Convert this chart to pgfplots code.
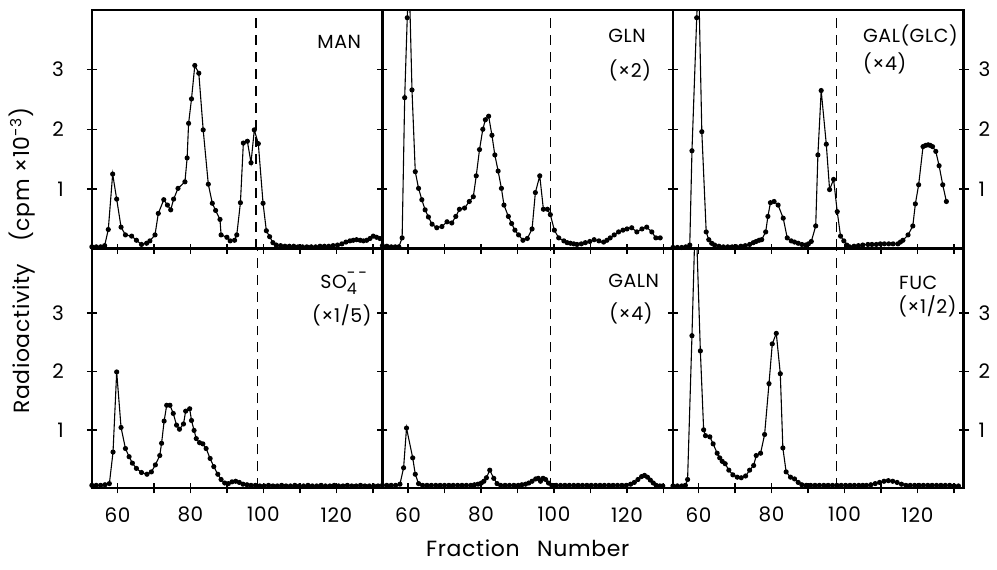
\documentclass[border=0pt]{standalone}
\usepackage{fontspec}
\setmainfont{Poppins}[LetterSpace=3]
\usepackage{pgfplots}
\pgfplotsset{compat=1.18}
\usepgfplotslibrary{groupplots}
\usetikzlibrary{calc}

\pgfplotsset{
  panel/.style={
    scale only axis, width=145.5pt, height=119.5pt,
    xmin=53, xmax=132.6, ymin=0, ymax=4,
    xtick={60,70,...,130}, xtick pos=lower,
    ytick={1,2,3},
    tick align=center, major tick length=5pt,
    axis line style={line width=1.2pt},
    every tick/.style={black, line width=0.8pt},
    xticklabels={}, yticklabels={},
    ticklabel style={font=\fontsize{10}{12}\selectfont},
    /pgf/number format/assume math mode=true,
  },
  lefty/.style={yticklabels={1,2,3}, yticklabel pos=left, ytick pos=both,
    yticklabel style={xshift=-8pt}},
  righty/.style={yticklabels={1,2,3}, yticklabel pos=right, ytick pos=both,
    yticklabel style={xshift=1.5pt}},
  midy/.style={ytick pos=both},
  botx/.style={xticklabels={60,,80,,100,,120,}, xticklabel style={yshift=-3.5pt},
    ymax=4.1, height=120pt},
  curve/.style={black, line width=0.55pt, mark=*, mark size=1pt,
    mark options={fill=black}},
  vline/.style={black, line width=0.65pt, dash pattern=on 5pt off 3.5pt},
}
\tikzset{lab/.style={anchor=base west, font=\fontsize{9.5}{11}\selectfont}}

\begin{document}
\begin{tikzpicture}
\begin{groupplot}[group style={group size=3 by 2, horizontal sep=0pt,
    vertical sep=0pt, group name=G}, panel]

% MAN
\nextgroupplot[lefty]
\addplot[vline] coordinates {(98,0) (98,4.1)};
\addplot[curve] coordinates {
(53,0.03)(54.2,0.03)(55.4,0.03)(56.5,0.05)(57.5,0.32)(58.7,1.25)(59.8,0.83)
(61,0.36)(62.2,0.23)(63.9,0.21)(65.2,0.14)(66.6,0.07)(68,0.09)(68.9,0.13)
(70.3,0.23)(71.2,0.59)(72.7,0.82)(73.7,0.73)(74.6,0.65)(75.4,0.83)(76.6,1.01)
(78.5,1.12)(79.1,1.52)(79.5,2.10)(80.3,2.51)(81.2,3.07)(82.3,2.94)(83.5,1.99)
(84.9,1.08)(86,0.76)(86.9,0.64)(88.1,0.49)(88.4,0.23)(90,0.19)(90.9,0.13)
(92.1,0.14)(92.7,0.23)(93.7,0.77)(94.5,1.77)(95.6,1.80)(96.6,1.44)(97.5,1.99)
(98.6,1.76)(99.9,0.76)(100.8,0.30)(101.7,0.20)(102.6,0.10)(103.5,0.06)
(104.7,0.05)(105.9,0.04)(107.1,0.04)(108.3,0.04)(109.5,0.03)(110.7,0.03)
(111.9,0.03)(113.1,0.03)(114.3,0.03)(115.5,0.04)(116.7,0.04)(117.9,0.04)
(119.1,0.05)(120.3,0.06)(121.5,0.08)(122.6,0.11)(123.7,0.13)(124.6,0.14)
(125.5,0.15)(126.5,0.14)(127.4,0.13)(128.3,0.14)(129.2,0.17)(130.1,0.21)
(131,0.19)(131.9,0.17)};
\node[lab] at (rel axis cs:0.752,0.84) {MAN};

% GLN
\nextgroupplot[midy]
\addplot[vline] coordinates {(99,0) (99,4.1)};
\addplot[curve] coordinates {
(53,0.05)(54.2,0.04)(55.4,0.03)(56.5,0.03)(57.5,0.03)(58.4,0.18)(59.1,2.53)
(59.8,3.87)(60.3,4.6)(61.1,2.66)(62,1.29)(62.9,1.01)(63.8,0.82)(64.7,0.65)
(65.6,0.53)(66.6,0.41)(67.9,0.35)(69.3,0.37)(70.7,0.45)(72,0.43)(73.1,0.54)
(74.1,0.66)(75.5,0.68)(76.8,0.79)(77.9,0.87)(78.7,1.22)(79.6,1.66)(80.5,2.0)
(81.2,2.16)(82.1,2.22)(83,1.9)(83.8,1.57)(84.7,1.3)(85.6,1.01)(86.3,0.73)
(87.5,0.54)(88.4,0.42)(89.3,0.31)(90.3,0.23)(91.5,0.14)(92.7,0.17)(94,0.33)
(94.9,0.94)(96.1,1.22)(97.1,0.66)(98.2,0.66)(99,0.57)(100.1,0.31)(101.3,0.18)
(102.7,0.13)(103.6,0.10)(104.5,0.09)(105.4,0.08)(106.3,0.07)(107.5,0.08)
(108.6,0.10)(109.8,0.12)(111,0.15)(112.3,0.13)(113.6,0.11)(114.5,0.14)
(115.4,0.18)(116.5,0.23)(117.7,0.28)(118.9,0.31)(120,0.33)(121.3,0.35)
(122.7,0.28)(124.1,0.33)(125.4,0.36)(126.8,0.28)(127.9,0.18)(129.1,0.18)};
\node[lab] at (rel axis cs:0.753,0.862) {GLN};
\node[lab] at (rel axis cs:0.755,0.719) {(×2)};

% GAL(GLC)
\nextgroupplot[righty]
\addplot[vline] coordinates {(97.7,0) (97.7,4.1)};
\addplot[curve] coordinates {
(53,0.02)(54.2,0.02)(55.4,0.02)(56.5,0.03)(57.6,0.06)(58.2,1.64)(59.5,3.87)
(60.0,4.6)(60.9,1.96)(62.1,0.28)(62.8,0.15)(63.6,0.09)(64.4,0.06)(65.6,0.04)
(66.8,0.03)(68,0.03)(69.2,0.03)(70.4,0.03)(71.6,0.04)(72.8,0.05)(74,0.07)
(75,0.10)(75.8,0.12)(76.6,0.14)(77.3,0.15)(78.4,0.28)(79,0.54)(79.7,0.77)
(80.7,0.79)(81.8,0.73)(83.2,0.51)(84.3,0.18)(85.4,0.13)(86.3,0.11)(87.3,0.09)
(88.3,0.07)(89.3,0.06)(90.1,0.08)(90.9,0.12)(92.1,0.38)(92.7,1.57)(93.6,2.65)
(95,1.75)(95.9,0.99)(97,1.16)(98,0.62)(98.9,0.21)(99.8,0.13)(100.6,0.06)
(101.4,0.03)(102.6,0.04)(103.8,0.05)(105,0.06)(106.4,0.07)(107.5,0.07)
(108.7,0.07)(109.8,0.08)(110.9,0.08)(112.1,0.08)(113.3,0.08)(114.6,0.08)
(115.3,0.11)(116,0.14)(117.4,0.23)(118.7,0.38)(119.4,0.75)(120.3,1.07)
(121.5,1.71)(122.2,1.73)(122.9,1.74)(123.5,1.73)(124.1,1.71)(125,1.63)
(125.9,1.39)(126.9,1.07)(127.9,0.79)};
\node[lab] at (rel axis cs:0.63,0.862) {GAL(GLC)};
\node[lab] at (rel axis cs:0.63,0.748) {(×4)};

% SO4
\nextgroupplot[lefty, botx]
\addplot[vline] coordinates {(98.3,0) (98.3,4.1)};
\addplot[curve] coordinates {
(53,0.05)(54.2,0.05)(55.4,0.05)(56.6,0.06)(57.8,0.08)(58.8,0.62)(59.8,1.99)
(61,1.04)(62.2,0.68)(63.2,0.54)(64.1,0.43)(65.2,0.34)(66.6,0.27)(68.1,0.24)
(69.3,0.28)(70.4,0.40)(71.6,0.56)(72.1,0.77)(72.8,1.15)(73.5,1.42)(74.4,1.42)
(75.3,1.28)(76.2,1.08)(77,1.01)(78.1,1.10)(78.7,1.32)(79.8,1.36)(80.3,1.16)
(81,0.99)(81.6,0.85)(82.5,0.78)(83.4,0.76)(84.3,0.68)(85.4,0.51)(86.4,0.37)
(87.5,0.24)(88.4,0.15)(89.4,0.09)(90.4,0.08)(91.4,0.11)(92.4,0.12)(93.4,0.10)
(94.4,0.07)(95.5,0.06)(96.6,0.05)(97.8,0.05)(99,0.04)(100.2,0.04)(101.4,0.05)
(102.6,0.04)(103.8,0.04)(105,0.05)(106.2,0.04)(107.4,0.04)(108.6,0.05)
(109.8,0.04)(111,0.04)(112.2,0.05)(113.4,0.04)(114.6,0.04)(115.8,0.05)
(117,0.04)(118.2,0.04)(119.4,0.05)(120.6,0.04)(121.8,0.04)(123,0.05)
(124.2,0.04)(125.4,0.04)(126.6,0.05)(127.8,0.04)(129,0.04)(130.2,0.04)
(131.4,0.04)};
\node[lab] at (rel axis cs:0.762,0.833)
  {SO\rlap{\raisebox{1.0ex}{\fontsize{8}{9}\selectfont -\,-}}\raisebox{-0.6ex}{\fontsize{8}{9}\selectfont 4}};
\node[lab] at (rel axis cs:0.734,0.69) {(×1/5)};

% GALN
\nextgroupplot[midy, botx]
\addplot[vline] coordinates {(99,0) (99,4.1)};
\addplot[curve] coordinates {
(53,0.05)(54.2,0.05)(55.4,0.05)(56.6,0.05)(57.8,0.07)(58.8,0.35)(59.6,1.03)
(61.3,0.52)(62,0.24)(62.9,0.08)(64,0.05)(65.2,0.05)(66.4,0.05)(67.6,0.05)
(68.8,0.05)(70,0.05)(71.2,0.05)(72.4,0.05)(73.6,0.05)(74.8,0.05)(76,0.05)
(77.2,0.05)(78.2,0.06)(79.2,0.07)(80.1,0.09)(80.8,0.12)(81.5,0.18)(82.4,0.31)
(83.5,0.17)(84.4,0.08)(85.4,0.05)(86.6,0.05)(87.8,0.05)(89,0.05)(90.2,0.05)
(91.2,0.06)(92.2,0.07)(93.1,0.09)(94,0.12)(95,0.16)(95.7,0.17)(96.3,0.12)
(97,0.17)(97.7,0.15)(98.5,0.09)(99.4,0.05)(100.6,0.05)(101.8,0.05)(103,0.05)
(104.2,0.05)(105.4,0.05)(106.6,0.05)(107.8,0.05)(109,0.05)(110.2,0.05)
(111.4,0.05)(112.6,0.05)(113.8,0.05)(115,0.05)(116.2,0.05)(117.4,0.05)
(118.6,0.05)(119.8,0.05)(121,0.07)(122,0.10)(123,0.15)(124,0.20)(124.8,0.22)
(125.6,0.19)(126.4,0.14)(127.2,0.09)(128,0.05)(129,0.04)(129.8,0.04)};
\node[lab] at (rel axis cs:0.753,0.837) {GALN};
\node[lab] at (rel axis cs:0.757,0.70) {(×4)};

% FUC
\nextgroupplot[righty, botx]
\addplot[vline] coordinates {(97.7,0) (97.7,4.1)};
\addplot[curve] coordinates {
(53,0.04)(54.2,0.04)(55.4,0.04)(56.4,0.05)(57,0.15)(58.2,2.61)(59.2,4.85)
(60.5,2.35)(61.4,1.00)(61.9,0.90)(63.1,0.88)(64,0.76)(65.1,0.60)(65.8,0.52)
(66.5,0.46)(67.3,0.42)(68.3,0.31)(69.4,0.23)(70.6,0.19)(71.7,0.18)(72.9,0.21)
(74,0.31)(75.1,0.39)(75.8,0.56)(77,0.60)(78.1,0.92)(79.3,1.79)(80.2,2.47)
(81.3,2.65)(82.4,1.96)(83.1,0.69)(84,0.28)(85.2,0.19)(86.3,0.16)(87.3,0.10)
(88.3,0.06)(89.5,0.05)(90.7,0.05)(91.9,0.05)(93.1,0.05)(94.3,0.05)(95.5,0.05)
(96.7,0.05)(97.9,0.05)(99.1,0.05)(100.3,0.05)(101.5,0.05)(102.7,0.05)
(103.9,0.05)(105,0.05)(106,0.05)(107.2,0.06)(108.4,0.08)(109.6,0.10)
(110.8,0.12)(112,0.13)(113.2,0.12)(114.4,0.10)(115.6,0.07)(116.8,0.05)
(118,0.05)(119.2,0.05)(120.4,0.05)(121.6,0.05)(122.8,0.05)(124,0.05)
(125.2,0.05)(126.4,0.05)(127.6,0.05)(128.8,0.05)(130,0.04)(131.2,0.04)};
\node[lab] at (rel axis cs:0.754,0.83) {FUC};
\node[lab] at (rel axis cs:0.751,0.73) {(×1/2)};

\end{groupplot}

\node[rotate=90, font=\fontsize{11}{13}\selectfont]
  at ($(G c1r1.south west)+(-35pt,-6pt)$)
  {Radioactivity\hspace{1em}(cpm ×10\textsuperscript{-3})};
\node[font=\fontsize{11}{13}\selectfont]
  at ($(G c2r2.south)+(0,-30pt)$) {Fraction\hspace{0.8em}Number};

\path ($(G c1r1.north west)+(-46pt,5pt)$) rectangle ++(498.5pt,-285pt);
\end{tikzpicture}
\end{document}
